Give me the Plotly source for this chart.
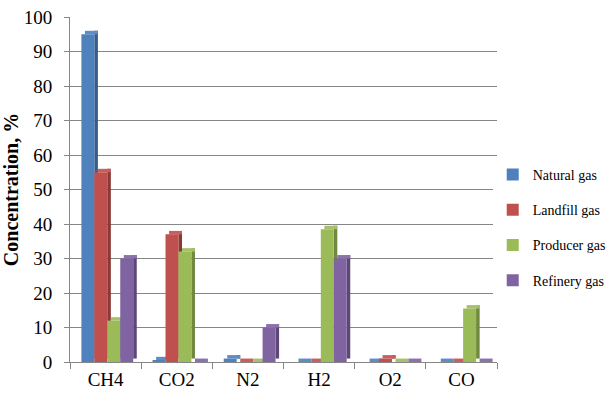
import plotly.graph_objects as go

categories = ["CH4", "CO2", "N2", "H2", "O2", "CO"]
series_names = ["Natural gas", "Landfill gas", "Producer gas", "Refinery gas"]
natural_gas = [95, 0.5, 1, 0, 0, 0]
landfill_gas = [55, 37, 0, 0, 1, 0]
producer_gas = [12, 32, 0, 38.5, 0, 15.5]
refinery_gas = [30, 0, 10, 30, 0, 0]
series_values = [natural_gas, landfill_gas, producer_gas, refinery_gas]
y_ticks = list(range(0, 101, 10))

front_colors = ["#4F81BD", "#C0504D", "#9BBB59", "#8064A2"]
side_colors = ["#385D8A", "#8C3836", "#71893F", "#5C4776"]
top_colors = ["#5F8CC4", "#C95F5C", "#A5C26A", "#8C72AC"]

bar_w = 0.182
side_w = 0.05
depth = 1.0
start = -0.34

fig = go.Figure()
for i, (name, vals) in enumerate(zip(series_names, series_values)):
    off = start + i * bar_w
    # side face
    fig.add_trace(go.Bar(x=categories, y=vals, base=[depth] * len(vals), offset=off + bar_w,
                         width=side_w, marker=dict(color=side_colors[i], line=dict(width=0)),
                         showlegend=False, hoverinfo="skip"))
    # top face
    fig.add_trace(go.Bar(x=categories, y=[depth] * len(vals), base=vals, offset=off + side_w,
                         width=bar_w, marker=dict(color=top_colors[i], line=dict(width=0)),
                         showlegend=False, hoverinfo="skip"))
    # front face
    fig.add_trace(go.Bar(x=categories, y=vals, offset=off, width=bar_w, name=name,
                         legendgroup=name,
                         marker=dict(color=front_colors[i], line=dict(width=0))))

fig.update_layout(
    width=616, height=404,
    barmode="overlay",
    margin=dict(l=70, r=119, t=17, b=42, autoexpand=False),
    paper_bgcolor="white", plot_bgcolor="white",
    font=dict(family="Liberation Serif", size=19, color="black"),
    legend=dict(x=0.99, xanchor="left", y=0.39, yanchor="middle",
                font=dict(family="Liberation Serif", size=14, color="black"),
                tracegroupgap=14, itemwidth=30),
    xaxis=dict(showline=True, linecolor="#868686", linewidth=1, ticks="outside",
               tickson="boundaries", ticklen=6, tickcolor="#868686", showgrid=False,
               tickfont=dict(size=19)),
    yaxis=dict(range=[0, 100], tickvals=y_ticks, showline=True, linecolor="#868686",
               ticks="outside", ticklen=5, tickcolor="#868686", gridcolor="#868686",
               gridwidth=1, zeroline=False, tickfont=dict(size=19), ticklabelstandoff=8,
               title=dict(text="<b>Concentration, %</b>", font=dict(size=20), standoff=6)),
)

fig.write_html("out.html")
